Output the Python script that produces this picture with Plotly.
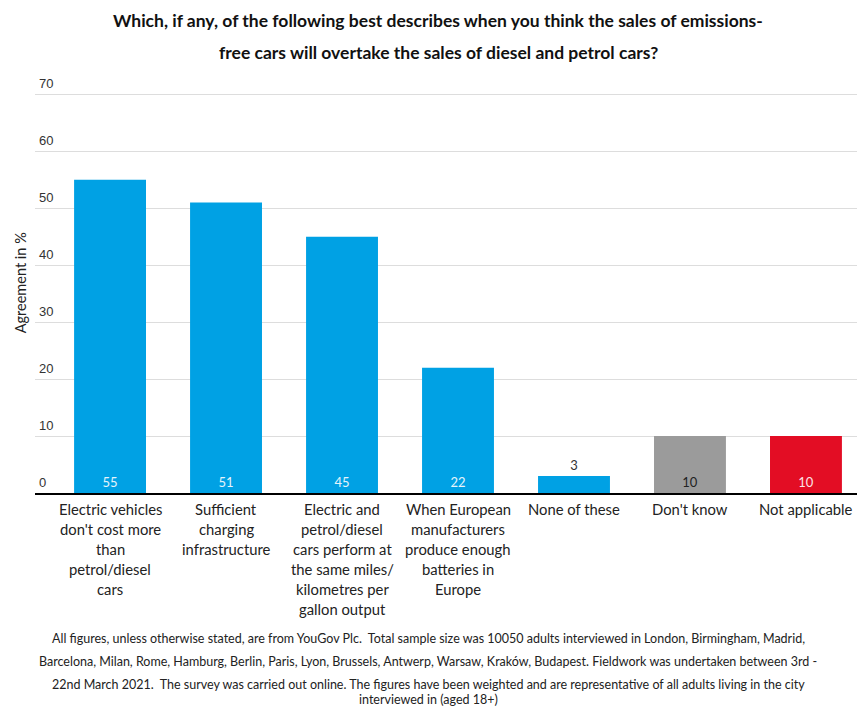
import plotly.graph_objects as go

categories = [
    "Electric vehicles<br>don't cost more<br>than<br>petrol/diesel<br>cars",
    "Sufficient<br>charging<br>infrastructure",
    "Electric and<br>petrol/diesel<br>cars perform at<br>the same miles/<br>kilometres per<br>gallon output",
    "When European<br>manufacturers<br>produce enough<br>batteries in<br>Europe",
    "None of these",
    "Don't know",
    "Not applicable",
]
values = [55, 51, 45, 22, 3, 10, 10]
bar_colors = ["#00A1E4", "#00A1E4", "#00A1E4", "#00A1E4", "#00A1E4", "#9B9B9B", "#E30D24"]
label_colors = ["#E6F4FB", "#E6F4FB", "#E6F4FB", "#E6F4FB", "#333333", "#222222", "#FBE3E6"]
label_pos = ["inside", "inside", "inside", "inside", "outside", "inside", "inside"]
y_ticks = [0, 10, 20, 30, 40, 50, 60, 70]

title_lines = [
    "Which, if any, of the following best describes when you think the sales of emissions-",
    "free cars will overtake the sales of diesel and petrol cars?",
]
footer_lines = [
    "All figures, unless otherwise stated, are from YouGov Plc.  Total sample size was 10050 adults interviewed in London, Birmingham, Madrid,",
    "Barcelona, Milan, Rome, Hamburg, Berlin, Paris, Lyon, Brussels, Antwerp, Warsaw, Kraków, Budapest. Fieldwork was undertaken between 3rd -",
    "22nd March 2021.  The survey was carried out online. The figures have been weighted and are representative of all adults living in the city",
    "interviewed in (aged 18+)",
]
y_title = "Agreement in %"

W, H = 857, 707
Y_TOP = 70.4
PX_PER_UNIT = 57 / 10
MB = 214
ML, MR = 35, 0
MT = H - MB - Y_TOP * PX_PER_UNIT
TXT = "Lato, 'Noto Sans', sans-serif"
footer_y = [638, 661, 684, 699]  # centres in px
title_y = [20, 52]

xs = list(range(len(categories)))

fig = go.Figure()
fig.add_trace(go.Bar(
    x=xs, y=values,
    marker=dict(color=bar_colors, line=dict(width=0)),
    width=0.62,
    text=[str(v) for v in values],
    textposition=label_pos,
    insidetextanchor="start",
    textangle=0,
    constraintext="none",
    cliponaxis=False,
    textfont=dict(family=TXT, size=13, color=label_colors),
    hoverinfo="skip",
))

annotations = []
# y tick labels above grid lines
for t in y_ticks:
    annotations.append(dict(
        x=0, y=t, xref="paper", yref="y", text=str(t), showarrow=False,
        xanchor="left", yanchor="bottom", yshift=1, xshift=2,
        font=dict(family="'Liberation Sans', Arial, sans-serif", size=13, color="#333333"),
    ))
# category labels, one annotation per line
for i, cat in enumerate(categories):
    for j, line in enumerate(cat.split("<br>")):
        annotations.append(dict(
            x=i, y=0, xref="x", yref="y", text=line, showarrow=False,
            xanchor="center", yanchor="middle", yshift=-(16 + 20 * j),
            font=dict(family=TXT, size=14.8, color="#222222"),
        ))
# title
for j, line in enumerate(title_lines):
    annotations.append(dict(
        x=(438 - ML) / (W - ML - MR), y=1, xref="paper", yref="paper",
        text="<b>" + line + "</b>", showarrow=False,
        xanchor="center", yanchor="middle", yshift=MT - title_y[j],
        font=dict(family=TXT, size=17.5, color="#111111"),
    ))
# footer
for j, line in enumerate(footer_lines):
    annotations.append(dict(
        x=(428 - ML) / (W - ML - MR), y=0, xref="paper", yref="paper", text=line, showarrow=False,
        xanchor="center", yanchor="middle", yshift=-(footer_y[j] - (H - MB)),
        font=dict(family=TXT, size=12.5, color="#222222"),
    ))
# y title
annotations.append(dict(
    x=0, y=0.523, xref="paper", yref="paper", text=y_title, showarrow=False,
    textangle=-90, xanchor="center", yanchor="middle", xshift=-15,
    font=dict(family=TXT, size=14.5, color="#222222"),
))

fig.update_layout(
    width=W, height=H,
    margin=dict(l=ML, r=MR, t=MT, b=MB, pad=0),
    paper_bgcolor="white", plot_bgcolor="white",
    showlegend=False,
    bargap=0.38,
    annotations=annotations,
    xaxis=dict(
        range=[-0.647, 6.44], showticklabels=False, showgrid=False, zeroline=False,
        showline=True, linecolor="#000000", linewidth=2, ticks="", fixedrange=True,
    ),
    yaxis=dict(
        range=[0, Y_TOP], tickvals=y_ticks, showticklabels=False,
        showgrid=True, gridcolor="#DDDDDD", gridwidth=1,
        zeroline=False, showline=False, ticks="", fixedrange=True,
    ),
)

fig.write_html(
    "out.html",
    config={"displayModeBar": False},
    post_script="document.body.style.margin='0';document.body.style.overflow='hidden';"
                "document.documentElement.style.overflow='hidden';",
)
